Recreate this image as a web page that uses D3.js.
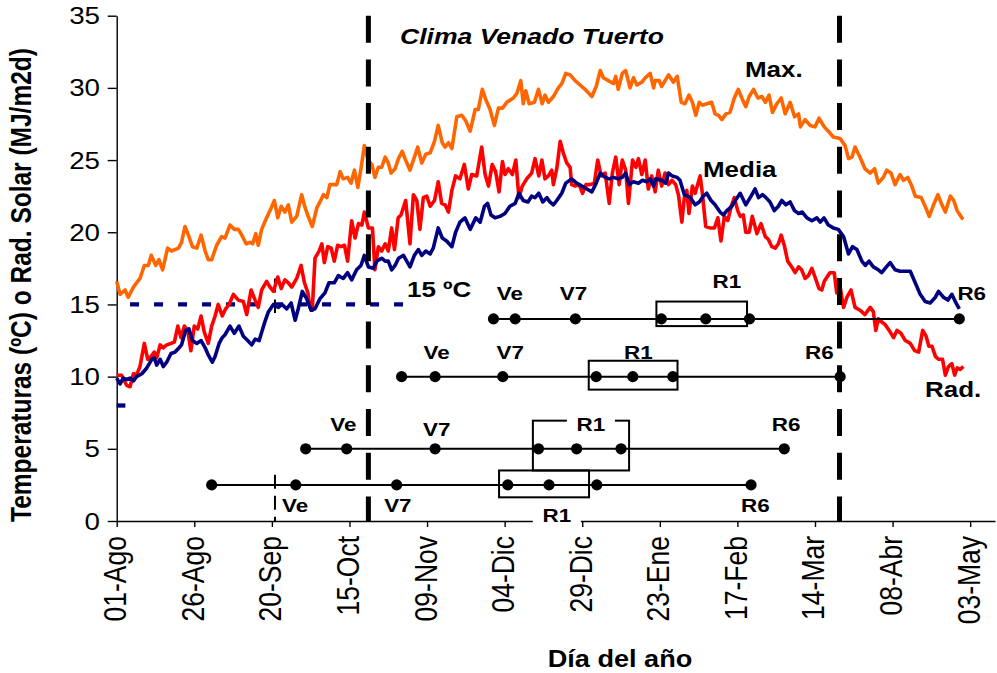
<!DOCTYPE html>
<html>
<head>
<meta charset="utf-8">
<script src="https://cdn.jsdelivr.net/npm/d3@7"></script>
<style>
  body { margin: 0; background: #fff; }
  text { font-family: "Liberation Sans", Arial, sans-serif; fill: #000; }
</style>
</head>
<body>
<svg id="chart" width="997" height="673"></svg>
<script>
// day 0 = 01-Ago
const tickLabels = ['01-Ago', '26-Ago', '20-Sep', '15-Oct', '09-Nov', '04-Dic',
  '29-Dic', '23-Ene', '17-Feb', '14-Mar', '08-Abr', '03-May'];

// [day, value]
const maxT = [[0,16.6],[1.1,15.7],[2.7,16.0],[3.7,15.5],[5.4,16.2],[6.4,16.5],[7.5,16.8],[8.9,17.7],[10.2,17.7],[11.1,18.4],
  [12.6,17.7],[13.6,18.1],[14.8,17.4],[16.4,18.9],[17.7,18.7],[19.9,18.9],[20.9,19.3],[22.0,20.4],[23.1,19.8],[24.4,19.0],
  [25.8,18.9],[27.2,19.8],[28.5,18.7],[29.5,18.1],[30.6,18.1],[32.2,19.1],[33.8,19.7],[34.9,19.6],[36.5,20.5],[37.9,20.2],
  [39.2,20.2],[40.3,19.8],[41.7,19.2],[43.0,19.3],[43.8,19.2],[44.8,19.9],[45.6,19.1],[46.7,20.2],[48.3,21.0],[49.4,21.5],
  [50.8,22.2],[51.9,21.0],[53.0,21.8],[54.2,21.4],[55.3,21.9],[56.4,20.7],[58.0,21.1],[59.6,22.6],[60.7,21.7],[61.7,21.1],
  [63.0,20.4],[64.5,21.7],[65.5,22.1],[66.6,22.6],[67.7,22.4],[68.7,23.3],[70.9,23.3],[72.0,24.2],[73.0,23.7],[74.4,23.8],
  [75.5,23.4],[76.6,24.3],[77.7,23.1],[78.7,24.4],[79.8,26.0],[81.0,25.0],[82.2,24.7],[83.2,23.8],[84.3,24.5],[85.4,24.5],
  [86.5,25.2],[87.5,24.8],[88.4,24.1],[89.7,24.4],[90.8,25.1],[92.0,25.6],[92.9,25.1],[94.5,24.3],[95.6,25.0],[97.0,25.9],
  [98.3,24.8],[99.6,25.4],[101.0,25.5],[102.4,26.3],[103.6,27.4],[104.9,26.2],[105.8,25.9],[106.9,26.2],[108.0,25.8],[109.6,28.0],
  [111.2,28.1],[112.5,27.7],[113.9,27.0],[115.5,28.5],[116.5,28.5],[117.8,29.9],[118.9,29.2],[120.3,28.5],[121.7,27.4],[123.0,28.6],
  [124.3,28.6],[125.7,29.0],[127.8,29.3],[128.9,29.6],[130.2,30.5],[131.0,28.9],[131.8,29.8],[132.9,28.9],[134.6,29.0],[135.9,29.9],
  [137.1,28.9],[138.0,29.5],[139.1,29.0],[140.7,29.4],[142.3,30.0],[143.4,30.3],[144.7,31.0],[146.1,30.9],[147.7,30.5],[149.3,30.2],
  [150.9,29.9],[153.1,29.4],[154.5,30.1],[155.8,31.2],[156.8,30.7],[158.4,30.5],[160.0,30.3],[160.8,30.8],[161.6,29.9],[162.9,31.0],
  [164.0,31.2],[165.4,30.0],[166.5,30.7],[167.6,30.2],[169.2,30.4],[170.3,30.7],[171.9,31.0],[173.0,30.0],[173.5,30.5],[174.8,30.5],
  [175.6,30.1],[177.8,30.9],[179.4,30.4],[180.6,30.8],[181.9,29.0],[183.1,28.9],[184.4,29.5],[185.5,29.0],[186.6,28.1],[187.7,29.0],
  [188.7,28.8],[190.1,28.9],[191.7,29.0],[192.8,28.2],[193.9,28.1],[195.0,27.8],[196.3,28.2],[197.6,28.3],[199.0,29.3],[200.3,29.9],
  [201.4,29.3],[202.7,28.7],[203.8,29.4],[205.2,29.9],[206.6,29.3],[207.9,29.4],[209.0,29.0],[210.2,29.5],[211.3,28.3],[212.7,28.9],
  [214.1,29.3],[215.4,28.2],[217.0,29.0],[218.4,28.0],[219.7,28.2],[220.3,27.3],[221.8,27.8],[223.4,27.4],[225.0,27.3],[226.3,27.9],
  [228.0,27.3],[229.3,27.0],[230.9,26.6],[233.1,26.5],[234.7,26.0],[235.8,25.1],[236.9,25.2],[237.9,25.9],[239.5,25.2],[241.1,24.4],
  [242.8,24.1],[244.2,24.4],[245.4,23.4],[247.0,23.8],[248.1,24.3],[249.5,24.1],[250.8,23.3],[252.4,24.0],[253.5,23.6],[254.9,23.8],
  [256.2,23.2],[257.3,22.5],[259.2,22.4],[260.5,21.8],[261.8,21.1],[263.2,21.9],[264.6,22.6],[265.9,21.9],[267.0,21.4],[268.6,22.5],
  [269.7,22.2],[270.8,21.5],[272.3,21.0],[272.8,20.9]];

const meanT = [[0,9.9],[1.1,9.5],[2.1,9.9],[3.2,9.8],[4.3,9.9],[5.4,9.7],[6.4,10.0],[8.1,10.2],[9.7,10.6],[11.3,11.2],
  [12.1,11.3],[12.9,10.8],[14.0,11.2],[15.0,10.7],[16.1,11.0],[17.5,11.6],[18.8,11.7],[20.1,12.0],[20.9,12.2],[22.2,13.2],
  [23.3,13.3],[24.4,12.5],[25.8,12.3],[27.2,12.5],[28.5,12.0],[29.5,11.5],[30.8,11.0],[31.7,11.4],[33.0,12.3],[34.0,12.7],
  [34.9,12.9],[36.5,13.5],[37.9,13.0],[39.4,13.5],[40.8,12.8],[42.2,12.5],[43.5,12.2],[44.6,12.6],[45.9,12.5],[47.6,13.7],
  [48.9,14.5],[50.5,15.0],[52.1,14.8],[53.2,15.0],[54.8,14.7],[56.2,15.1],[57.5,13.9],[58.5,14.7],[59.8,15.9],[61.2,15.4],
  [62.6,14.6],[63.9,14.7],[65.5,15.4],[67.1,15.8],[68.4,16.5],[70.1,16.5],[71.4,17.0],[73.0,16.8],[74.4,17.2],[75.7,16.7],
  [77.3,17.4],[78.7,17.7],[79.8,18.4],[81.1,17.6],[82.7,17.5],[83.8,18.0],[85.4,18.2],[86.5,18.0],[87.5,18.0],[88.6,17.4],
  [89.7,17.7],[90.8,18.2],[92.4,18.4],[94.5,17.6],[95.9,18.4],[97.2,18.8],[98.3,18.4],[99.6,18.7],[101.0,18.5],[102.0,18.9],
  [103.6,20.3],[104.9,19.6],[106.3,19.4],[108.0,19.0],[109.2,20.0],[110.6,20.7],[112.2,21.0],[113.9,20.2],[115.7,21.0],[117.1,20.7],
  [118.5,21.8],[119.5,22.0],[120.6,21.2],[121.9,21.0],[123.5,21.1],[125.1,21.3],[126.7,21.8],[128.4,22.0],[129.6,22.7],[131.0,22.2],
  [132.5,22.1],[133.7,22.5],[134.8,22.4],[136.0,22.7],[137.3,22.1],[138.6,22.4],[139.6,22.1],[140.7,21.9],[141.8,22.2],[143.4,22.7],
  [144.7,23.4],[146.6,23.7],[148.2,23.4],[149.9,23.2],[151.5,23.0],[153.1,22.8],[154.5,23.4],[155.8,24.1],[157.4,23.8],[158.7,23.7],
  [160.0,23.8],[161.6,23.7],[162.9,23.8],[164.0,24.1],[165.1,23.3],[166.5,23.5],[168.1,23.4],[169.4,23.6],[170.8,23.5],[171.9,23.7],
  [173.0,23.2],[173.7,23.7],[175.6,23.6],[176.9,23.4],[177.8,24.1],[179.0,23.9],[180.6,23.8],[181.5,23.6],[182.9,22.6],[184.8,22.4],
  [186.4,21.9],[187.7,22.1],[189.0,22.5],[190.1,22.7],[191.5,22.2],[192.8,21.9],[194.4,21.4],[195.5,21.2],[196.6,21.5],[198.2,21.8],
  [199.3,22.2],[200.9,22.7],[202.7,21.9],[204.4,22.5],[205.7,23.0],[206.8,22.4],[208.1,22.6],[209.2,22.4],[210.5,22.1],[211.9,21.5],
  [213.2,21.8],[214.3,22.2],[215.6,21.9],[217.0,22.1],[218.4,21.5],[219.7,21.3],[220.9,21.4],[222.4,21.0],[224.0,20.8],[225.6,21.0],
  [226.7,20.7],[227.9,21.0],[229.3,20.5],[230.9,20.3],[232.5,20.2],[234.2,19.7],[235.8,18.5],[237.1,19.0],[238.5,18.8],[240.1,18.0],
  [241.2,17.7],[242.4,18.0],[243.8,17.6],[245.4,17.4],[246.5,17.2],[247.6,17.5],[249.2,17.9],[250.8,17.4],[252.4,17.3],[254.1,17.3],
  [255.7,17.3],[257.3,16.5],[258.9,15.7],[260.5,15.2],[262.1,15.1],[263.8,15.5],[264.8,15.9],[266.4,15.5],[267.8,15.3],[269.1,15.7],
  [270.2,15.2],[271.5,14.7]];

const rad = [[0,10.1],[1.6,10.1],[3.2,9.4],[4.3,9.3],[5.4,10.2],[6.4,10.1],[7.5,10.7],[8.9,12.3],[10.0,11.2],[11.1,11.4],
  [12.1,11.7],[12.9,11.3],[14.0,12.2],[15.0,12.0],[16.1,12.2],[17.5,12.3],[18.6,12.4],[19.7,13.5],[20.7,12.7],[21.8,13.5],
  [22.9,13.2],[23.9,11.8],[25.0,13.5],[26.1,13.3],[27.2,14.2],[28.2,13.1],[29.5,12.3],[30.6,13.5],[31.7,14.2],[32.7,15.0],
  [34.0,14.2],[35.1,14.7],[36.2,15.0],[37.6,15.7],[39.2,15.3],[40.8,15.2],[41.9,14.3],[43.3,16.0],[44.6,15.3],[45.6,14.8],
  [46.7,16.0],[48.3,16.6],[49.4,16.2],[50.5,15.9],[51.9,16.9],[53.0,16.1],[54.2,16.7],[55.3,16.5],[56.4,16.2],[58.0,16.8],
  [59.4,17.7],[60.5,16.5],[61.6,15.8],[62.3,14.8],[63.0,14.6],[63.9,18.2],[65.2,18.7],[66.1,19.2],[66.9,17.9],[68.0,19.0],
  [69.1,18.9],[70.1,18.0],[71.2,19.1],[72.3,19.0],[73.4,19.1],[74.4,18.0],[75.7,20.8],[76.8,19.6],[77.9,20.6],[79.0,20.5],
  [79.8,21.4],[81.1,20.3],[82.4,20.3],[83.2,17.4],[84.3,19.0],[85.4,18.7],[86.5,19.2],[87.5,18.7],[88.6,20.3],[89.5,18.8],
  [90.7,21.0],[91.6,21.2],[93.1,22.2],[94.5,19.2],[95.6,22.6],[96.7,22.2],[97.7,20.2],[98.8,22.4],[99.9,22.5],[101.0,21.8],
  [102.4,22.2],[103.6,23.5],[104.7,22.0],[105.8,21.9],[106.9,21.4],[108.0,22.9],[109.2,23.9],[110.6,23.7],[112.0,24.7],[113.3,23.0],
  [114.4,24.0],[116.0,23.9],[117.6,25.9],[118.7,24.0],[119.8,23.2],[121.0,24.7],[122.1,24.2],[123.2,22.8],[124.3,24.9],[125.1,24.0],
  [126.2,24.4],[127.5,24.0],[128.6,25.0],[129.6,22.4],[130.7,23.2],[132.1,23.7],[133.7,24.1],[134.8,25.1],[136.0,23.9],[137.0,25.0],
  [138.0,23.7],[139.1,23.9],[140.2,24.3],[140.7,23.3],[141.8,24.4],[142.9,26.3],[143.9,25.5],[145.0,24.8],[146.1,24.5],[146.6,23.3],
  [147.7,23.2],[149.0,23.3],[150.1,22.7],[151.2,23.3],[152.5,23.3],[153.9,23.4],[155.0,25.0],[156.1,23.9],[157.4,24.1],[158.7,22.0],
  [159.7,24.1],[160.8,25.2],[161.9,23.3],[162.9,25.0],[164.0,24.3],[164.9,22.0],[166.2,25.0],[167.3,24.5],[168.1,25.1],[169.2,24.0],
  [170.3,25.0],[171.3,23.0],[172.4,23.9],[173.5,22.8],[174.5,24.3],[175.6,23.2],[176.7,24.1],[177.8,23.3],[178.9,23.6],[180.1,23.3],
  [181.0,22.6],[182.1,20.7],[182.9,22.4],[183.7,22.9],[184.4,21.3],[185.5,23.2],[186.4,22.7],[187.2,23.3],[188.0,23.9],[188.7,22.7],
  [189.8,20.4],[191.1,20.3],[192.6,20.3],[193.7,21.0],[194.7,19.4],[195.8,21.1],[196.9,20.8],[198.0,21.8],[199.0,22.4],[200.1,21.5],
  [200.9,21.1],[201.9,21.2],[202.7,20.0],[203.8,20.0],[204.8,21.1],[206.3,19.9],[207.6,20.6],[209.0,19.7],[210.0,19.5],[211.1,19.0],
  [212.2,18.9],[213.2,19.2],[214.1,19.8],[215.1,19.1],[216.2,18.0],[217.5,17.6],[218.6,17.2],[219.7,17.6],[220.7,17.4],[221.8,16.8],
  [222.9,17.0],[224.0,17.5],[225.0,16.9],[226.3,16.1],[227.2,16.0],[228.0,16.6],[229.8,17.2],[231.2,17.2],[232.0,15.8],[233.1,16.2],
  [234.2,14.8],[235.3,15.5],[236.6,16.0],[237.9,14.8],[239.5,14.6],[241.1,14.3],[242.8,14.8],[243.8,14.5],[244.6,13.2],[245.4,14.0],
  [246.5,13.8],[247.6,13.6],[248.9,13.2],[250.3,12.7],[251.4,13.2],[252.7,13.0],[254.1,12.5],[255.7,12.3],[257.1,11.8],[258.4,11.7],
  [259.7,13.2],[260.8,12.8],[261.7,12.1],[262.7,12.1],[263.8,11.4],[264.8,11.2],[266.1,11.2],[267.0,10.1],[268.0,10.7],[269.1,10.9],
  [270.0,10.1],[270.8,10.6],[271.8,10.5],[272.8,10.7]];

// phenology: row level, stage days, R1 box [from, to, top, bottom]
const rowLevels = [14, 10, 5, 2.5];
const stageDays = [
  [121.4, 128.4, 147.8, 175.5, 189.8, 203.9, 271.5],
  [91.8, 102.6, 124.4, 154.5, 166.3, 179.2, 233.1],
  [60.9, 74.1, 102.6, 135.9, 148.2, 162.5, 215.1],
  [30.6, 57.7, 90.2, 126.0, 139.3, 154.7, 204.4]
];
const r1Boxes = [[173.9, 203.1, 15.2, 13.5], [152.1, 180.7, 11.1, 9.1], [134.1, 165.1, 6.95, 3.5], [123.2, 152.2, 3.5, 1.64]];
// [text, day, value, white background]
const stageLabels = [
  ['Ve', 126.7, 15.8], ['V7', 147.2, 15.8], ['R1', 196.6, 16.6], ['R6', 275.5, 15.8],
  ['Ve', 103.1, 11.7], ['V7', 126.8, 11.7], ['R1', 168.1, 11.7], ['R6', 226.4, 11.7],
  ['Ve', 73.0, 6.7], ['V7', 103.1, 6.35], ['R1', 152.8, 6.7, true], ['R6', 215.7, 6.7],
  ['Ve', 57.5, 1.1], ['V7', 90.6, 1.1], ['R1', 141.8, 0.4, true], ['R6', 205.8, 1.1]
];
const sowingLimits = [81.1, 232.9];   // thick dashed lines
const baseTemp = 15;
const markDay = 51;                   // thin dashed marker
const markSpans = [[16.8, 14.4], [3.2, 0]];

const svg = d3.select('#chart');
const SX = 1.18; // text looks horizontally stretched in the original

const x = d3.scaleLinear().domain([0, 283]).range([116.7, 995]);
const y = d3.scaleLinear().domain([0, 35]).range([521, 15.7]);

function put(sel, px, py, rot) {
  sel.attr('transform', `translate(${px},${py}) scale(${SX},1)` + (rot ? ` rotate(${rot})` : ''));
  return sel;
}

/* axes */
svg.append('g')
  .attr('transform', `translate(${x(0)},0)`)
  .call(d3.axisLeft(y).tickValues(d3.range(0, 36, 5)).tickSize(9).tickSizeOuter(0).tickFormat(''));
svg.append('g')
  .attr('transform', `translate(0,${y(0)})`)
  .call(d3.axisBottom(x).tickValues(d3.range(0, 276, 25)).tickSize(6).tickSizeOuter(0).tickFormat(''));
svg.selectAll('.domain, .tick line').attr('stroke', '#000').attr('stroke-width', 1.4);

d3.range(0, 36, 5).forEach((v) => {
  put(svg.append('text'), 100, y(v) + 8.5)
    .attr('text-anchor', 'end').attr('font-size', 23.5).text(v);
});
tickLabels.forEach((t, i) => {
  put(svg.append('text'), x(i * 25) + 9.5, y(0) + 15, -90)
    .attr('text-anchor', 'end').attr('font-size', 26.5).text(t);
});

put(svg.append('text'), 31, 285, -90)
  .attr('text-anchor', 'middle').attr('font-size', 24.5).attr('font-weight', 'bold')
  .text('Temperaturas (ºC) o Rad. Solar (MJ/m2d)');
put(svg.append('text'), 620, 667)
  .attr('text-anchor', 'middle').attr('font-size', 23).attr('font-weight', 'bold')
  .text('Día del año');

/* reference lines */
svg.append('line')
  .attr('x1', x(4.3)).attr('x2', x(92.3)).attr('y1', y(baseTemp)).attr('y2', y(baseTemp))
  .attr('stroke', '#000080').attr('stroke-width', 4.3).attr('stroke-dasharray', '9,15');
svg.append('line')
  .attr('x1', x(0)).attr('x2', x(2.8)).attr('y1', y(8)).attr('y2', y(8))
  .attr('stroke', '#000080').attr('stroke-width', 4.3);
markSpans.forEach(([a, b]) => {
  svg.append('line')
    .attr('x1', x(markDay)).attr('x2', x(markDay)).attr('y1', y(a)).attr('y2', y(b))
    .attr('stroke', '#000').attr('stroke-width', 2).attr('stroke-dasharray', '14,7');
});

/* series */
const line = d3.line().x((d) => x(d[0])).y((d) => y(d[1]));
[[maxT, '#FF6600'], [rad, '#FF0000'], [meanT, '#000080']].forEach(([data, colour]) => {
  svg.append('path').datum(data)
    .attr('d', line)
    .attr('fill', 'none').attr('stroke', colour).attr('stroke-width', 3.6)
    .attr('stroke-linejoin', 'round');
});

svg.selectAll('.limit').data(sowingLimits).enter().append('line')
  .attr('class', 'limit')
  .attr('x1', (d) => x(d)).attr('x2', (d) => x(d))
  .attr('y1', y(35)).attr('y2', y(0))
  .attr('stroke', '#000').attr('stroke-width', 5).attr('stroke-dasharray', '27,16.7');

/* phenology rows */
stageDays.forEach((days, i) => {
  const lev = rowLevels[i];
  const g = svg.append('g');
  g.append('line')
    .attr('x1', x(days[0])).attr('x2', x(days[days.length - 1]))
    .attr('y1', y(lev)).attr('y2', y(lev))
    .attr('stroke', '#000').attr('stroke-width', 2);
  const b = r1Boxes[i];
  g.append('rect')
    .attr('x', x(b[0])).attr('y', y(b[2]))
    .attr('width', x(b[1]) - x(b[0])).attr('height', y(b[3]) - y(b[2]))
    .attr('fill', 'none').attr('stroke', '#000').attr('stroke-width', 2);
  g.selectAll('circle').data(days).enter().append('circle')
    .attr('cx', (d) => x(d)).attr('cy', y(lev)).attr('r', 5.6).attr('fill', '#000');
});

stageLabels.forEach(([t, d, v, bg]) => {
  if (bg) {
    svg.append('rect')
      .attr('x', x(d) - 24).attr('y', y(v) - 14)
      .attr('width', 48).attr('height', 28).attr('fill', '#fff');
  }
  put(svg.append('text'), x(d), y(v) + 7)
    .attr('text-anchor', 'middle').attr('font-size', 19).attr('font-weight', 'bold').text(t);
});

/* annotations */
put(svg.append('text'), 400, 44)
  .attr('font-size', 22.5).attr('font-weight', 'bold').attr('font-style', 'italic')
  .text('Clima Venado Tuerto');
put(svg.append('text'), 745, 77).attr('font-size', 22).attr('font-weight', 'bold').text('Max.');
put(svg.append('text'), 703, 177).attr('font-size', 22).attr('font-weight', 'bold').text('Media');
put(svg.append('text'), 925, 397).attr('font-size', 22).attr('font-weight', 'bold').text('Rad.');
put(svg.append('text'), 407, 297).attr('font-size', 22).attr('font-weight', 'bold').text('15 ºC');
</script>
</body>
</html>
